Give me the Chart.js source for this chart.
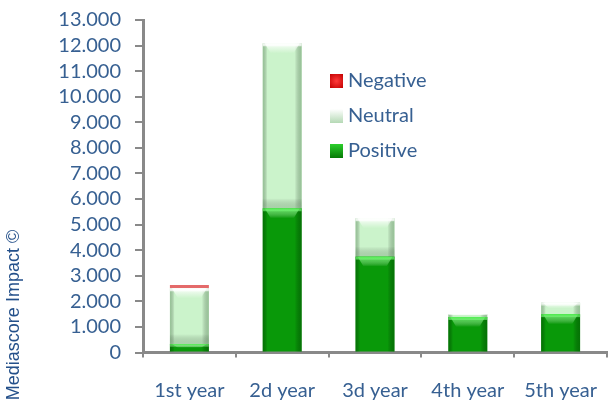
<!DOCTYPE html>
<html>
<head>
<meta charset="utf-8">
<title>Mediascore Impact</title>
<script src="https://cdn.jsdelivr.net/npm/chart.js"></script>
<style>
  html, body { margin: 0; padding: 0; background: #fff; }
  #wrap { position: relative; width: 608px; height: 405px; }
  #legend { position: absolute; left: 330px; top: 62px; font-family: Lato, sans-serif; font-size: 20px; color: #376092; }
  #legend .item { height: 35px; line-height: 35px; white-space: nowrap; }
  #legend .box { display: inline-block; width: 13px; height: 14px; margin-right: 5px; vertical-align: -1px; }
</style>
</head>
<body>
<div id="wrap">
  <canvas id="chart" width="608" height="405"></canvas>
  <div id="legend"></div>
</div>
<script>
// yearly impact scores, stacked positive -> neutral -> negative
const years = ['1st year', '2d year', '3d year', '4th year', '5th year'];
const positive = [330, 5640, 3750, 1390, 1500];
const neutral = [2180, 6450, 1500, 110, 450];
const negative = [130, 0, 0, 0, 0];

const textBlue = '#376092';
const axisGray = '#898989';

function fmt(v) {
    // thousands with a dot, e.g. 12.000
    return String(v).replace(/\B(?=(\d{3})+(?!\d))/g, '.');
}

// bevel look on each bar segment
const bevel = {
    id: 'bevel',
    afterDatasetsDraw(chart) {
        const ctx = chart.ctx;
        chart.data.datasets.forEach((ds, di) => {
            const meta = chart.getDatasetMeta(di);
            meta.data.forEach(el => {
                const p = el.getProps(['x', 'y', 'base', 'width'], true);
                const left = p.x - p.width / 2;
                const top = Math.min(p.y, p.base);
                const h = Math.abs(p.base - p.y);
                if (h < 1 || ds.fx === 'flat') return;
                ctx.save();
                // darker sides
                const g = ctx.createLinearGradient(left, 0, left + p.width, 0);
                g.addColorStop(0, ds.edge);
                g.addColorStop(0.12, 'rgba(0,0,0,0)');
                g.addColorStop(0.82, 'rgba(0,0,0,0)');
                g.addColorStop(1, ds.edge);
                ctx.fillStyle = g;
                ctx.fillRect(left, top, p.width, h);
                // lit top edge
                const th = Math.min(10, h / 2);
                const t = ctx.createLinearGradient(0, top, 0, top + th);
                t.addColorStop(0, ds.shine);
                t.addColorStop(1, 'rgba(255,255,255,0)');
                ctx.fillStyle = t;
                ctx.beginPath();
                ctx.moveTo(left + 2, top);
                ctx.lineTo(left + p.width - 2, top);
                ctx.lineTo(left + p.width - 8, top + th);
                ctx.lineTo(left + 8, top + th);
                ctx.closePath();
                ctx.fill();
                ctx.fillRect(left, top, p.width, Math.min(3, th));
                // shaded foot
                if (ds.foot && h > 20) {
                    const b = ctx.createLinearGradient(0, top + h - 10, 0, top + h);
                    b.addColorStop(0, 'rgba(0,0,0,0)');
                    b.addColorStop(1, ds.foot);
                    ctx.fillStyle = b;
                    ctx.fillRect(left, top + h - 10, p.width, 10);
                }
                ctx.restore();
            });
        });
    }
};

// rotated y axis title on the far left
const yTitle = {
    id: 'yTitle',
    afterDraw(chart) {
        const ctx = chart.ctx;
        ctx.save();
        ctx.translate(14, 315);
        ctx.rotate(-Math.PI / 2);
        ctx.font = '18px "Liberation Sans", Arial, sans-serif';
        ctx.fillStyle = '#24508a';
        ctx.textAlign = 'center';
        ctx.textBaseline = 'middle';
        ctx.fillText('Mediascore Impact \u00a9', 0, 0);
        ctx.restore();
    }
};

const chart = new Chart(document.getElementById('chart'), {
    type: 'bar',
    data: {
        labels: years,
        datasets: [
            { label: 'Positive', data: positive, backgroundColor: '#099909',
              edge: 'rgba(0,70,0,0.45)', shine: 'rgba(80,240,80,0.85)',
              legendBg: 'linear-gradient(#2ccf2c, #067a06)' },
            { label: 'Neutral', data: neutral, backgroundColor: '#cbf3cb',
              edge: 'rgba(90,140,90,0.45)', shine: 'rgba(255,255,255,0.95)', foot: 'rgba(110,150,110,0.35)',
              legendBg: 'linear-gradient(#ffffff, #b5d9b5)' },
            { label: 'Negative', data: negative, backgroundColor: '#e46a6a', fx: 'flat',
              legendBg: 'radial-gradient(circle, #ff3a3a, #c20000)' }
        ]
    },
    options: {
        responsive: false,
        animation: false,
        layout: { padding: { top: 20, right: 1, left: 0, bottom: 0 } },
        datasets: { bar: { barPercentage: 0.42, categoryPercentage: 1, borderWidth: 0 } },
        plugins: { legend: { display: false }, tooltip: { enabled: false } },
        scales: {
            x: {
                stacked: true,
                afterFit(s) { s.height = 52.5; },
                border: { color: axisGray, width: 3 },
                grid: { offset: true, drawOnChartArea: false, drawTicks: true, tickLength: 5, color: axisGray, lineWidth: 2 },
                // tall line height pushes the year labels well below the axis
                ticks: { padding: 2, color: textBlue, font: { family: 'Lato', size: 20, lineHeight: 3.1 } }
            },
            y: {
                stacked: true,
                min: 0,
                max: 13000,
                afterFit(s) { s.width = 143; },
                border: { color: axisGray, width: 3 },
                grid: { drawOnChartArea: false, drawTicks: true, tickLength: 8, color: axisGray, lineWidth: 2 },
                ticks: { stepSize: 1000, autoSkip: false, padding: 14, color: textBlue,
                         font: { family: 'Lato', size: 20, lineHeight: 0.3 },
                         callback: v => fmt(v) }
            }
        }
    },
    plugins: [bevel, yTitle]
});

// legend, listed top-down as Negative, Neutral, Positive
const legendEl = document.getElementById('legend');
chart.data.datasets.slice().reverse().forEach(ds => {
    const item = document.createElement('div');
    item.className = 'item';
    item.innerHTML = `<span class="box" style="background:${ds.legendBg}"></span>${ds.label}`;
    legendEl.appendChild(item);
});
</script>
</body>
</html>
